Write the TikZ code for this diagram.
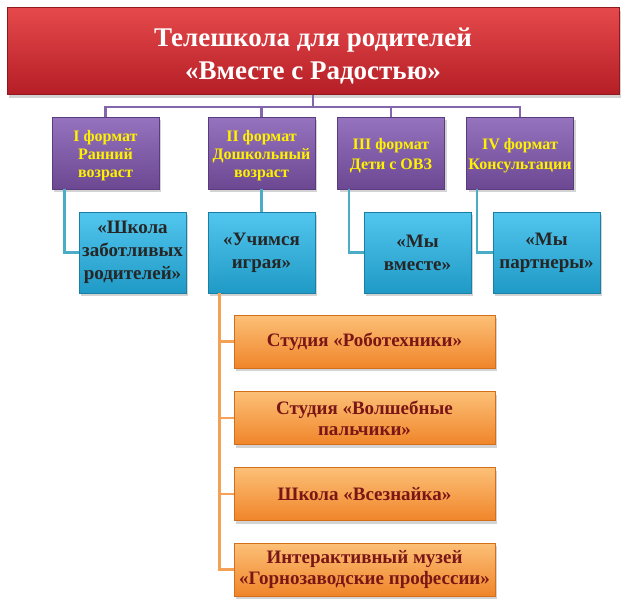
\documentclass[tikz,border=0pt]{standalone}
\usepackage{fontspec}
\setmainfont{Liberation Serif}
\usetikzlibrary{shadows}
\definecolor{redTop}{HTML}{E5494B}
\definecolor{redBot}{HTML}{B51E26}
\definecolor{redEdge}{HTML}{8E1A1E}
\definecolor{purTop}{HTML}{9673BE}
\definecolor{purBot}{HTML}{6C4893}
\definecolor{purEdge}{HTML}{5A3C7E}
\definecolor{purLine}{HTML}{8466AC}
\definecolor{tealTop}{HTML}{52C6EE}
\definecolor{tealBot}{HTML}{1F9AC6}
\definecolor{tealEdge}{HTML}{1A7FA5}
\definecolor{tealLine}{HTML}{4BACC6}
\definecolor{orTop}{HTML}{FCC077}
\definecolor{orBot}{HTML}{F0852A}
\definecolor{orEdge}{HTML}{D26F1D}
\definecolor{orLine}{HTML}{F5A057}
\definecolor{orText}{HTML}{7A1616}
\definecolor{yel}{HTML}{FFF200}
\begin{document}
\begin{tikzpicture}[x=1pt,y=-1pt,
  box/.style={rectangle, inner sep=1pt, align=center, line width=0.8pt,
    drop shadow={shadow xshift=2pt, shadow yshift=-3pt, opacity=0.35}},
  titlebox/.style={box, top color=redTop, bottom color=redBot, draw=redEdge,
    minimum width=612pt, minimum height=87pt, text=white,
    font=\fontsize{27}{33}\selectfont\bfseries},
  fmtbox/.style={box, top color=purTop, bottom color=purBot, draw=purEdge,
    minimum width=107pt, minimum height=72pt, text=yel,
    font=\fontsize{16}{18}\selectfont\bfseries},
  fmtboxwide/.style={fmtbox, font=\fontsize{16}{20}\selectfont\bfseries},
  prjbox/.style={box, top color=tealTop, bottom color=tealBot, draw=tealEdge,
    minimum width=107pt, minimum height=81pt, text=black!85,
    font=\fontsize{19}{23}\selectfont\bfseries},
  actbox/.style={box, top color=orTop, bottom color=orBot, draw=orEdge,
    minimum width=261pt, minimum height=53pt, text=orText,
    font=\fontsize{19}{21}\selectfont\bfseries},
  purconn/.style={draw=purLine, line width=2.5pt},
  tealconn/.style={draw=tealLine, line width=2.5pt},
  orconn/.style={draw=orLine, line width=2.5pt}
]
\useasboundingbox (0,0) rectangle (628,608);

\coordinate (bus) at (0,107);

\node[titlebox] (title) at (313,51) {\rule{0pt}{29pt}Телешкола для родителей\\«Вместе с Радостью»};

\node[fmtbox] (p1) at (105.5,153) {\rule{0pt}{17pt}I формат\\Ранний\\возраст};
\node[fmtbox] (p2) at (261.5,153) {\rule{0pt}{17pt}II формат\\Дошкольный\\возраст};
\node[fmtboxwide] (p3) at (391,153) {\rule{0pt}{17pt}III формат\\Дети с ОВЗ};
\node[fmtboxwide] (p4) at (520,153) {\rule{0pt}{17pt}IV формат\\Консультации};

\node[prjbox] (t1) at (132.5,252.5) {«Школа\\заботливых\\родителей»};
\node[prjbox] (t2) at (261.5,252.5) {«Учимся\\играя»};
\node[prjbox] (t3) at (417.5,252.5) {«Мы\\вместе»};
\node[prjbox] (t4) at (546.5,252.5) {«Мы\\партнеры»};

\node[actbox] (o1) at (364.5,341.5) {Студия «Роботехники»};
\node[actbox] (o2) at (364.5,418) {Студия «Волшебные\\пальчики»};
\node[actbox] (o3) at (364.5,494) {Школа «Всезнайка»};
\node[actbox] (o4) at (364.5,569.5) {Интерактивный музей\\«Горнозаводские профессии»};

% purple bus
\path[purconn] (title.south) -- (title.south |- bus);
\path[purconn] (p1.north) -- (p1.north |- bus) -- (p4.north |- bus) -- (p4.north);
\path[purconn] (p2.north) -- (p2.north |- bus);
\path[purconn] (p3.north) -- (p3.north |- bus);

% teal connectors
\path[tealconn] ([xshift=13pt]p1.south west) |- (t1.west);
\path[tealconn] (p2.south) -- (t2.north);
\path[tealconn] ([xshift=12pt]p3.south west) |- (t3.west);
\path[tealconn] ([xshift=11pt]p4.south west) |- (t4.west);

% orange connectors
\coordinate (trunk) at ([xshift=12pt]t2.south west);
\path[orconn] (trunk) |- (o1.west);
\path[orconn] (trunk) |- (o2.west);
\path[orconn] (trunk) |- (o3.west);
\path[orconn] (trunk) |- (o4.west);
\end{tikzpicture}
\end{document}
